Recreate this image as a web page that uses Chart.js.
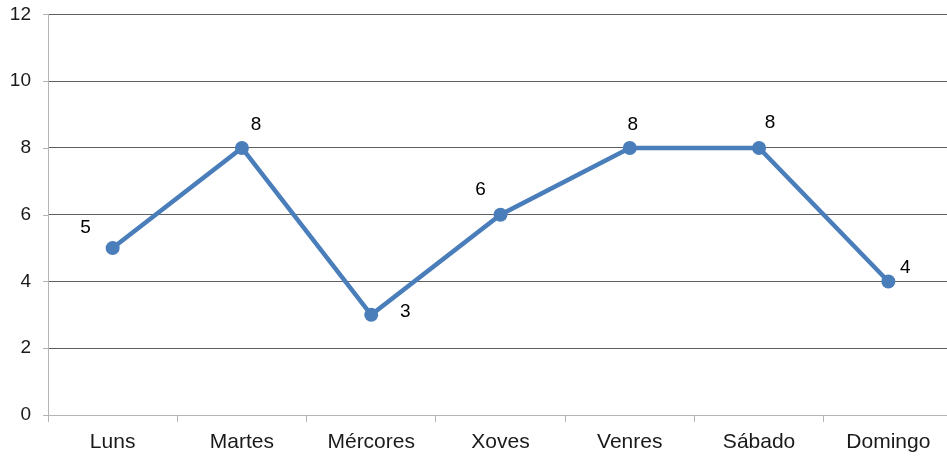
<!DOCTYPE html>
<html>
<head>
<meta charset="utf-8">
<script src="https://cdn.jsdelivr.net/npm/chart.js@4/dist/chart.umd.min.js"></script>
<style>
  html, body { margin: 0; padding: 0; background: #fff; overflow: hidden; }
  #wrap { width: 953px; height: 457px; position: relative; }
</style>
</head>
<body>
<div id="wrap"><canvas id="chart"></canvas></div>
<script>
// ===================== DATOS =====================
const DAYS = ['Luns', 'Martes', 'Mércores', 'Xoves', 'Venres', 'Sábado', 'Domingo'];
const VALUES = [5, 8, 3, 6, 8, 8, 4];
const Y_TICKS = [0, 2, 4, 6, 8, 10, 12];

// ===================== ESTILO =====================
const FONT_FAMILY = '"Liberation Sans", Arial, sans-serif';
const LINE_COLOR = '#4a7ebb';
const GRID_DARK = '#5f5f5f';
const AXIS_LIGHT = '#b4b4b4';
const TEXT_COLOR = '#1a1a1a';

// desprazamento de cada etiqueta respecto ao seu punto (px)
const LABEL_OFFSETS = [[-27, -20], [14, -23], [34, -3], [-20, -25], [3, -23], [11, -25], [17, -14]];

Chart.defaults.font.family = FONT_FAMILY;
Chart.defaults.color = TEXT_COLOR;

// etiquetas de valor ao carón dos puntos
const valueLabels = {
  id: 'valueLabels',
  afterDatasetsDraw(chart) {
    const ctx = chart.ctx;
    const meta = chart.getDatasetMeta(0);
    ctx.save();
    ctx.font = '19px ' + FONT_FAMILY;
    ctx.fillStyle = '#000';
    ctx.textAlign = 'center';
    ctx.textBaseline = 'middle';
    meta.data.forEach((pt, i) => {
      const off = LABEL_OFFSETS[i] || [0, -20];
      ctx.fillText(String(VALUES[i]), pt.x + off[0], pt.y + off[1]);
    });
    ctx.restore();
  }
};

// marcas curtas do eixo Y (á esquerda do eixo)
const yTickMarks = {
  id: 'yTickMarks',
  afterDraw(chart) {
    const y = chart.scales.y;
    const ctx = chart.ctx;
    ctx.save();
    ctx.strokeStyle = AXIS_LIGHT;
    ctx.lineWidth = 1;
    ctx.beginPath();
    Y_TICKS.forEach(v => {
      const py = Math.round(y.getPixelForValue(v)) + 0.5;
      ctx.moveTo(y.right - 5, py);
      ctx.lineTo(y.right, py);
    });
    ctx.stroke();
    ctx.restore();
  }
};

new Chart(document.getElementById('chart'), {
  type: 'line',
  data: {
    labels: DAYS,
    datasets: [{
      data: VALUES,
      borderColor: LINE_COLOR,
      backgroundColor: LINE_COLOR,
      borderWidth: 4.5,
      pointRadius: 7,
      pointHoverRadius: 7,
      pointBorderWidth: 0,
      tension: 0
    }]
  },
  options: {
    responsive: true,
    maintainAspectRatio: false,
    animation: false,
    layout: { autoPadding: false, padding: 0 },
    plugins: {
      legend: { display: false },
      tooltip: { enabled: false }
    },
    scales: {
      x: {
        offset: true,
        grid: {
          offset: true,
          drawOnChartArea: false,
          tickLength: 7,
          tickColor: AXIS_LIGHT
        },
        border: { color: AXIS_LIGHT, width: 1 },
        ticks: {
          font: { size: 21 },
          color: TEXT_COLOR,
          padding: 8,
          maxRotation: 0,
          autoSkip: false
        },
        afterFit(scale) { scale.height = 42; }
      },
      y: {
        min: 0,
        max: 12,
        afterBuildTicks(scale) {
          scale.ticks = Y_TICKS.map(v => ({ value: v }));
        },
        grid: {
          color: ctx => (ctx.tick && ctx.tick.value === 0) ? AXIS_LIGHT : GRID_DARK,
          tickColor: 'rgba(0,0,0,0)',
          tickLength: 14
        },
        border: { color: AXIS_LIGHT, width: 1 },
        ticks: {
          font: { size: 19 },
          color: TEXT_COLOR,
          padding: 3
        },
        afterFit(scale) { scale.width = 48; }
      }
    }
  },
  plugins: [valueLabels, yTickMarks]
});
</script>
</body>
</html>
